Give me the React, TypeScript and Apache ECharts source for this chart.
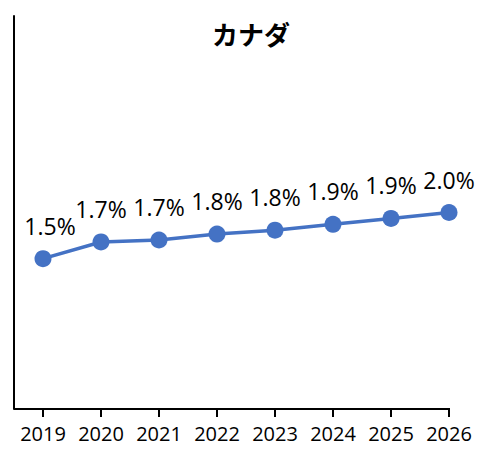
import React, { useEffect, useRef } from "react";
import * as echarts from "echarts";

const titleText = "カナダ";
const years = ["2019", "2020", "2021", "2022", "2023", "2024", "2025", "2026"];
const values = [1.53, 1.7, 1.72, 1.78, 1.82, 1.88, 1.94, 2.0];
const labels = ["1.5%", "1.7%", "1.7%", "1.8%", "1.8%", "1.9%", "1.9%", "2.0%"];

export default function App() {
  const ref = useRef<HTMLDivElement>(null);
  useEffect(() => {
    if (!ref.current) return;
    const chart = echarts.init(ref.current, undefined, { renderer: "svg" });
    chart.setOption({
      animation: false,
      title: {
        text: titleText,
        left: 246,
        top: 15,
        textAlign: "center",
        textStyle: { fontFamily: "Noto Sans CJK JP", fontSize: 26, fontWeight: "bold", color: "#000" },
      },
      grid: { left: 14, right: 2, top: 16, bottom: 43 },
      xAxis: {
        type: "category",
        data: years,
        boundaryGap: true,
        axisLine: { show: false },
        axisTick: { show: true, interval: 0, alignWithLabel: true, length: 8, lineStyle: { color: "#000", width: 2 } },
        axisLabel: { interval: 0, hideOverlap: false, color: "#000", fontFamily: "Open Sans", fontSize: 20, margin: 14 },
      },
      yAxis: {
        type: "value",
        min: 0,
        max: 4,
        interval: 1,
        splitLine: { show: false },
        axisLabel: { show: false },
        axisTick: { show: false },
        axisLine: { show: true, lineStyle: { color: "#000", width: 2 } },
      },
      graphic: [
        {
          type: "line",
          shape: { x1: 14, y1: 409, x2: 450, y2: 409 },
          style: { stroke: "#000", lineWidth: 2 },
          z: 10,
        },
      ],
      series: [
        {
          type: "line",
          data: values.map((v, i) => ({
            value: v,
            label: i === 0 ? { offset: [7, 0] } : undefined,
          })),
          symbol: "circle",
          symbolSize: 17,
          lineStyle: { color: "#4472C4", width: 3.5 },
          itemStyle: { color: "#4472C4" },
          label: {
            show: true,
            position: "top",
            distance: 13,
            color: "#000",
            fontFamily: "Open Sans",
            fontSize: 23,
            formatter: (p: any) => labels[p.dataIndex],
          },
        },
      ],
    });
    return () => chart.dispose();
  }, []);
  return <div ref={ref} style={{ width: 480, height: 452, position: "absolute", left: 0, top: 0 }} />;
}
